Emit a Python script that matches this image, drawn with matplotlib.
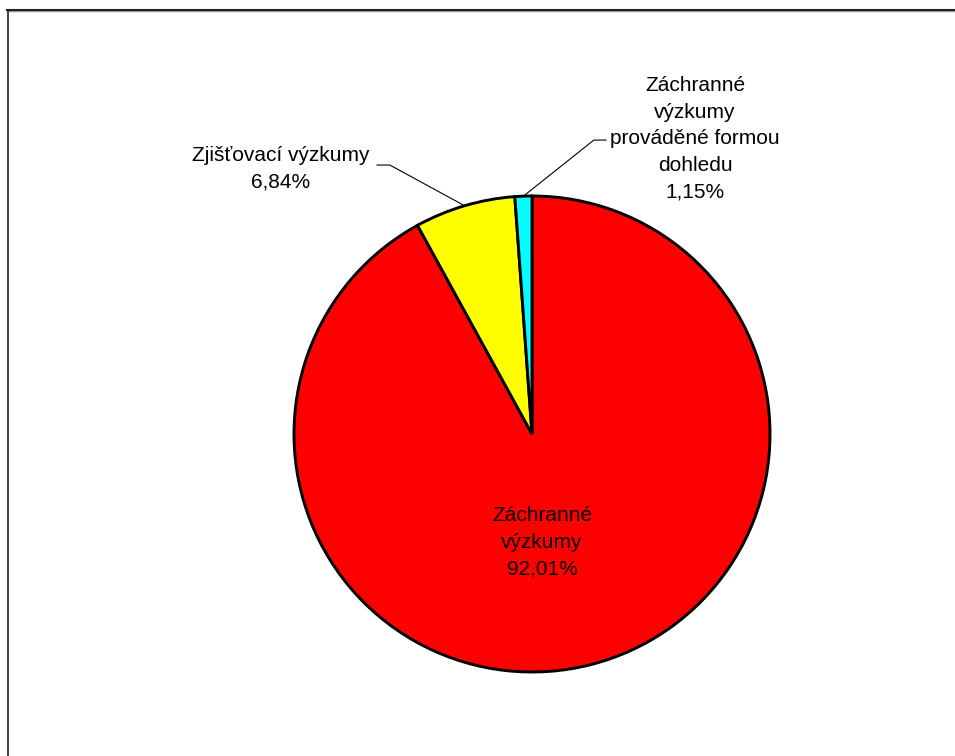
import matplotlib
matplotlib.use("Agg")
import matplotlib.pyplot as plt
from matplotlib.lines import Line2D
import numpy as np

categories = ["Záchranné\nvýzkumy", "Zjišťovací výzkumy",
              "Záchranné\nvýzkumy\nprováděné formou\ndohledu"]
values = [92.01, 6.84, 1.15]
value_labels = ["92,01%", "6,84%", "1,15%"]
colors = ["#FF0000", "#FFFF00", "#00FFFF"]

W, H = 955, 756
cx, cy, R = 532, 434, 238

plt.rcParams['font.family'] = ['Liberation Sans', 'DejaVu Sans']

fig = plt.figure(figsize=(W / 100, H / 100), dpi=100)
ax = fig.add_axes([0, 0, 1, 1])
ax.axis('off')

wedges, _ = ax.pie(values, colors=colors, startangle=90, counterclock=False,
                   radius=1.0, center=(0, 0),
                   wedgeprops=dict(edgecolor='black', linewidth=2.1))
ax.set_xlim(-cx / R, (W - cx) / R)
ax.set_ylim(-(H - cy) / R, cy / R)
ax.set_aspect('auto')

fs = 15
ls = 1.5

def mid_point(w, r=1.0):
    ang = np.deg2rad((w.theta1 + w.theta2) / 2)
    return r * np.cos(ang), r * np.sin(ang)

# red slice label (inside)
ax.text(0.042, -0.455, f"{categories[0]}\n{value_labels[0]}", ha='center', va='center',
        fontsize=fs, linespacing=ls)

# yellow slice label with leader
px, py = mid_point(wedges[1], 1.0)
ax.plot([-0.651, -0.597, px], [1.130, 1.130, py], color='black', lw=0.8)
ax.text(-1.055, 1.113, f"{categories[1]}\n{value_labels[1]}", ha='center', va='center',
        fontsize=fs, linespacing=ls)

# cyan slice label with leader
px, py = mid_point(wedges[2], 1.0)
ax.plot([px, 0.26, 0.311], [py, 1.235, 1.235], color='black', lw=0.8)
ax.text(0.685, 1.24, f"{categories[2]}\n{value_labels[2]}", ha='center', va='center',
        fontsize=fs, linespacing=ls)

# chart area frame (top and left edges visible)
fig.add_artist(Line2D([7 / W, 1], [1 - 10.5 / H, 1 - 10.5 / H], color='#999999', lw=1.0,
                      transform=fig.transFigure))
fig.add_artist(Line2D([7 / W, 1], [1 - 9.5 / H, 1 - 9.5 / H], color='#222222', lw=1.5,
                      transform=fig.transFigure))
fig.add_artist(Line2D([7.5 / W, 7.5 / W], [0, 1 - 9.5 / H], color='#222222', lw=1.2,
                      transform=fig.transFigure))

fig.savefig("out.png", dpi=100, facecolor='white')
